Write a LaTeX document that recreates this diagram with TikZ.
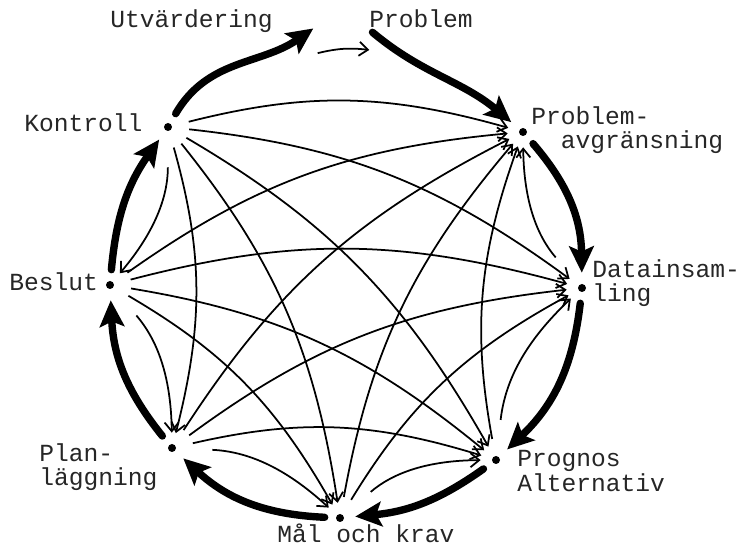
\documentclass[tikz,border=0pt]{standalone}
\usepackage{fontspec}
\newfontfamily\typew{Liberation Mono}
\usetikzlibrary{arrows.meta}

\tikzset{
  hub/.style={circle,minimum size=0.6cm,inner sep=0pt},
  lbl/.style={font=\typew\fontsize{14}{14}\selectfont,inner sep=0pt,align=left,text=black!85},
  cyc/.style={line width=4.2pt,line cap=round,-{Stealth[length=15pt,width=14pt,inset=3pt]}},
  fb/.style={line width=1pt,shorten <=0.12cm,-{Straight Barb[length=5pt,width=8pt]}},
}

\begin{document}
\begin{tikzpicture}[x=0.02cm,y=0.02cm]
  \useasboundingbox (0,0) rectangle (741,548);
  % stations round the circle
  \node[hub] (pa) at (523,416) {};
  \node[hub] (di) at (582,260) {};
  \node[hub] (pr) at (496,88) {};
  \node[hub] (mk) at (340,30) {};
  \node[hub] (pl) at (172,100) {};
  \node[hub] (be) at (110,263) {};
  \node[hub] (ko) at (168,421) {};
  \node[hub,minimum size=0.52cm] (ut) at (320,508) {};
  \node[hub,minimum size=0.4cm] (pb) at (376,506) {};
  \foreach \n in {pa,di,pr,mk,pl,be,ko} \fill (\n) circle (0.08cm);

  \node[lbl,anchor=base west] (utl) at (110,520) {Utvärdering};
  \node[lbl,anchor=base west] (pbl) at (369,520) {Problem};
  \node[lbl,anchor=west] (pal) at (531,418) {Problem-\\\phantom{Pr}avgränsning};
  \node[lbl,anchor=west] (dil) at (592,265) {Datainsam-\\ling};
  \node[lbl,anchor=west] (prl) at (517,77) {Prognos\\Alternativ};
  \node[lbl,anchor=base west] (mkl) at (277,5) {Mål och krav};
  \node[lbl,anchor=west] (pll) at (39,81) {Plan-\\läggning};
  \node[lbl,anchor=base west] (bel) at (9,257) {Beslut};
  \node[lbl,anchor=base west] (kol) at (24,416) {Kontroll};

  % main cycle
  \draw[cyc] (pb.110) to[out=-40,in=140] (pa);
  \draw[cyc] (pa) to[bend left=20] (di);
  \draw[cyc] (di) to[bend left=20] (pr);
  \draw[cyc] (pr) to[bend left=15] (mk);
  \draw[cyc] (mk) to[bend left=20] (pl);
  \draw[cyc] (pl) to[bend left=18] (be);
  \draw[cyc] (be) to[bend left=15] (ko);
  \draw[cyc] (ko) to[out=60,in=215] (ut.120);
  \draw[fb,shorten <=0pt] (ut.-100) to[bend left=10] (pb.-130);

  % feedback to every earlier step
  \foreach \a/\b in {di/pa,pr/di,mk/pr,pl/mk,be/pl,ko/be}
    \draw[fb,shorten <=0.5cm] (\a) to[bend left=20] (\b);
  \foreach \a/\b in {pr/pa,mk/pa,mk/di,pl/pa,pl/di,pl/pr,be/pa,be/di,be/pr,be/mk,
                     ko/pa,ko/di,ko/pr,ko/mk,ko/pl}
    \draw[fb] (\a) to[bend left=15] (\b);
\end{tikzpicture}
\end{document}
